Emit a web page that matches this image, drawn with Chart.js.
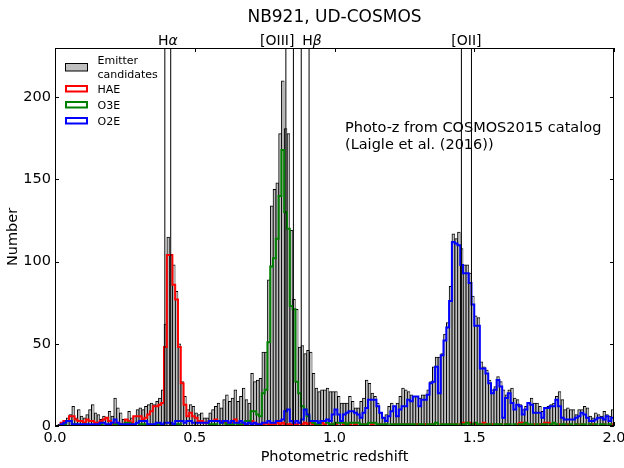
<!DOCTYPE html>
<html>
<head>
<meta charset="utf-8">
<script src="https://cdn.jsdelivr.net/npm/chart.js@4.4.1/dist/chart.umd.min.js"></script>
<style>
  html, body { margin: 0; padding: 0; background: #fff; }
</style>
</head>
<body>
<canvas id="chart" width="624" height="468"></canvas>
<script>
// histogram bins: 0.00 - 2.00 in steps of 0.01
const binWidth = 0.01;

const emitters = [
  0, 1, 1, 3, 5, 7, 12, 5, 10, 6,
  5, 7, 10, 13, 8, 7, 4, 6, 5, 9,
  6, 17, 11, 8, 4, 4, 9, 5, 6, 10,
  11, 10, 12, 13, 14, 13, 15, 17, 22, 62,
  115, 104, 98, 82, 50, 27, 18, 10, 13, 12,
  8, 7, 8, 5, 5, 8, 10, 12, 14, 11,
  16, 19, 15, 17, 22, 15, 18, 23, 16, 14,
  32, 27, 28, 29, 45, 45, 89, 134, 144, 148,
  178, 210, 181, 178, 119, 77, 71, 48, 49, 44,
  46, 45, 32, 23, 21, 22, 22, 23, 21, 21,
  21, 18, 14, 14, 14, 18, 15, 11, 11, 15,
  17, 28, 26, 20, 18, 14, 8, 5, 7, 12,
  14, 12, 14, 18, 23, 22, 21, 19, 18, 18,
  17, 19, 19, 22, 27, 36, 42, 42, 44, 56,
  63, 85, 117, 114, 118, 108, 98, 98, 93, 79,
  67, 66, 39, 36, 34, 28, 22, 24, 30, 27,
  22, 19, 22, 23, 17, 16, 13, 10, 12, 14,
  17, 14, 14, 12, 9, 11, 12, 13, 14, 18,
  21, 16, 10, 11, 10, 10, 7, 10, 10, 12,
  11, 6, 5, 8, 7, 6, 9, 7, 6, 10
];

const hae = [
  0, 0, 2, 3, 3, 6, 6, 4, 3, 3,
  2, 4, 3, 3, 2, 2, 3, 4, 5, 3,
  1, 2, 2, 1, 1, 4, 3, 2, 6, 6,
  6, 4, 5, 7, 9, 12, 12, 13, 14, 48,
  104, 104, 86, 77, 48, 26, 13, 6, 8, 6,
  5, 3, 3, 2, 2, 3, 3, 4, 3, 3,
  2, 2, 1, 2, 4, 2, 1, 1, 1, 2,
  3, 2, 1, 1, 1, 2, 1, 1, 1, 2,
  1, 2, 1, 1, 1, 1, 1, 2, 1, 2,
  1, 2, 1, 0, 1, 2, 1, 0, 0, 1,
  1, 0, 0, 1, 1, 1, 0, 1, 0, 0,
  1, 1, 0, 1, 0, 0, 1, 0, 0, 0,
  0, 1, 0, 0, 1, 0, 1, 0, 0, 1,
  0, 0, 1, 0, 0, 1, 0, 0, 1, 0,
  0, 1, 0, 1, 0, 1, 2, 2, 2, 1,
  1, 0, 1, 2, 1, 0, 1, 0, 0, 1,
  0, 1, 0, 0, 0, 1, 2, 2, 1, 0,
  0, 1, 0, 1, 1, 2, 2, 1, 0, 0,
  1, 0, 0, 1, 0, 0, 1, 0, 1, 0,
  0, 1, 1, 0, 0, 0, 1, 0, 0, 1
];

const o3e = [
  0, 0, 0, 1, 3, 3, 1, 1, 0, 0,
  1, 0, 0, 0, 0, 0, 1, 0, 0, 0,
  0, 1, 1, 1, 1, 2, 2, 1, 0, 0,
  1, 1, 1, 0, 0, 0, 1, 1, 0, 0,
  0, 0, 1, 1, 1, 0, 0, 0, 0, 0,
  0, 0, 0, 0, 0, 1, 1, 1, 0, 2,
  3, 1, 1, 1, 0, 1, 1, 2, 3, 3,
  9, 9, 7, 6, 20, 22, 51, 97, 102, 114,
  140, 168, 130, 120, 73, 71, 27, 20, 12, 10,
  6, 3, 2, 1, 1, 3, 3, 2, 1, 1,
  2, 2, 2, 2, 1, 2, 2, 2, 2, 1,
  1, 1, 2, 2, 2, 1, 1, 1, 1, 0,
  1, 1, 1, 1, 1, 1, 1, 1, 1, 0,
  1, 1, 0, 1, 1, 1, 2, 0, 1, 1,
  1, 1, 1, 1, 0, 1, 1, 2, 1, 1,
  2, 1, 1, 0, 1, 1, 0, 1, 1, 1,
  0, 1, 1, 0, 1, 0, 1, 1, 2, 1,
  1, 0, 1, 0, 1, 1, 0, 1, 2, 1,
  0, 1, 1, 0, 1, 0, 1, 0, 1, 1,
  0, 1, 0, 1, 0, 1, 1, 0, 1, 0
];

const o2e = [
  0, 0, 1, 2, 3, 3, 1, 1, 1, 1,
  1, 1, 1, 1, 1, 1, 2, 2, 1, 1,
  2, 4, 2, 1, 1, 1, 1, 1, 1, 2,
  3, 3, 3, 1, 1, 1, 2, 2, 1, 2,
  2, 2, 1, 3, 3, 3, 2, 3, 3, 2,
  2, 2, 2, 2, 2, 3, 3, 3, 3, 2,
  3, 3, 2, 3, 2, 2, 3, 2, 1, 2,
  1, 2, 1, 1, 2, 2, 3, 2, 2, 3,
  3, 4, 9, 10, 3, 2, 3, 2, 4, 10,
  7, 3, 3, 3, 2, 3, 3, 4, 3, 7,
  10, 7, 3, 7, 8, 9, 9, 8, 7, 5,
  8, 11, 16, 16, 16, 12, 8, 5, 3, 6,
  9, 12, 6, 10, 12, 12, 16, 15, 18, 18,
  12, 16, 16, 19, 26, 27, 36, 20, 43, 52,
  60, 76, 112, 111, 110, 98, 93, 93, 87, 74,
  61, 61, 35, 35, 32, 26, 20, 22, 28, 24,
  5, 17, 20, 14, 10, 13, 12, 7, 10, 14,
  13, 8, 8, 8, 5, 11, 11, 12, 12, 16,
  12, 5, 4, 4, 4, 4, 5, 6, 8, 7,
  5, 3, 3, 4, 5, 5, 4, 6, 3, 5
];

// NB921 filter edges translated to redshift for each line
const lineZ = [0.393, 0.414, 0.826, 0.853, 0.881, 0.909, 1.454, 1.490];
const xTicks = [0, 0.5, 1.0, 1.5, 2.0];
const yTicks = [0, 50, 100, 150, 200];
const yMax = 230;

const FONT = '"DejaVu Sans", "Liberation Sans", sans-serif';
Chart.defaults.font.family = FONT;
Chart.defaults.color = '#000';

function stepPoints(arr) {
  const pts = arr.map((v, i) => ({x: i * binWidth, y: v}));
  pts.push({x: arr.length * binWidth, y: 0});
  return pts;
}

const barPoints = emitters.map((v, i) => ({x: (i + 0.5) * binWidth, y: v}));
const vlinePoints = [];
lineZ.forEach(z => {
  vlinePoints.push({x: z, y: 0}, {x: z, y: yMax}, {x: z, y: null});
});

function stepSet(label, data, color, order) {
  return {
    type: 'line',
    label: label,
    data: stepPoints(data),
    borderColor: color,
    borderWidth: 2,
    stepped: 'before',
    pointRadius: 0,
    fill: false,
    order: order
  };
}

// text, legend, frame and inward ticks
const decor = {
  id: 'decor',
  afterDraw(chart) {
    const {ctx, chartArea: a, scales: {x, y}} = chart;
    ctx.save();

    ctx.strokeStyle = '#000';
    ctx.lineWidth = 1;
    ctx.strokeRect(Math.round(a.left) + 0.5, Math.round(a.top) + 0.5,
                   Math.round(a.right - a.left) - 1, Math.round(a.bottom - a.top) - 1);

    ctx.beginPath();
    xTicks.forEach(v => {
      const p = Math.round(x.getPixelForValue(v)) + 0.5;
      ctx.moveTo(p, a.bottom); ctx.lineTo(p, a.bottom - 4);
      ctx.moveTo(p, a.top); ctx.lineTo(p, a.top + 4);
    });
    yTicks.forEach(v => {
      const p = Math.round(y.getPixelForValue(v)) + 0.5;
      ctx.moveTo(a.left, p); ctx.lineTo(a.left + 4, p);
      ctx.moveTo(a.right, p); ctx.lineTo(a.right - 4, p);
    });
    ctx.stroke();

    ctx.fillStyle = '#000';
    ctx.textBaseline = 'alphabetic';

    // title
    ctx.font = '17px ' + FONT;
    ctx.textAlign = 'center';
    ctx.fillText('NB921, UD-COSMOS', (a.left + a.right) / 2, 21.5);

    // line labels above the frame
    const base = 44.5;
    const normal = '14px ' + FONT, oblique = 'italic 14px ' + FONT;
    function lineName(plain, greek, px, align) {
      ctx.font = normal;
      const w1 = ctx.measureText(plain).width;
      let w2 = 0;
      if (greek) { ctx.font = oblique; w2 = ctx.measureText(greek).width; }
      const w = w1 + w2;
      let left = px;
      if (align === 'center') left = px - w / 2;
      if (align === 'right') left = px - w;
      ctx.textAlign = 'left';
      ctx.font = normal;
      ctx.fillText(plain, left, base);
      if (greek) { ctx.font = oblique; ctx.fillText(greek, left + w1, base); }
    }
    const px = z => x.getPixelForValue(z);
    lineName('H', 'α', (px(lineZ[0]) + px(lineZ[1])) / 2, 'center');
    lineName('[OIII]', '', px(lineZ[3]) + 1, 'right');
    lineName('H', 'β', px(lineZ[4]) + 1, 'left');
    lineName('[OII]', '', (px(lineZ[6]) + px(lineZ[7])) / 2, 'center');

    // note
    ctx.font = '14.5px ' + FONT;
    ctx.textAlign = 'left';
    ctx.fillText('Photo-z from COSMOS2015 catalog', 345, 132);
    ctx.fillText('(Laigle et al. (2016))', 345, 149);

    // legend
    const lx = 65, lw = 23, tx = 97.5;
    ctx.font = '11px ' + FONT;
    ctx.fillStyle = '#bfbfbf';
    ctx.fillRect(lx, 63.5, lw, 7.5);
    ctx.strokeStyle = '#000';
    ctx.lineWidth = 1;
    ctx.strokeRect(lx + 0.5, 63.5, lw - 1, 7.5);
    ctx.fillStyle = '#000';
    ctx.fillText('Emitter', tx, 64);
    ctx.fillText('candidates', tx, 77.5);
    [['HAE', '#ff0000', 86], ['O3E', '#008000', 102], ['O2E', '#0000ff', 118]].forEach(e => {
      ctx.strokeStyle = e[1];
      ctx.lineWidth = 2;
      ctx.strokeRect(lx + 1, e[2], lw - 2, 5.5);
      ctx.fillStyle = '#000';
      ctx.fillText(e[0], tx, e[2] + 7);
    });

    ctx.restore();
  }
};

new Chart(document.getElementById('chart'), {
  type: 'bar',
  data: {
    datasets: [
      {
        type: 'line',
        label: 'filter edges',
        data: vlinePoints,
        borderColor: '#000',
        borderWidth: 1,
        pointRadius: 0,
        spanGaps: false,
        fill: false,
        order: 1
      },
      stepSet('O2E', o2e, '#0000ff', 2),
      stepSet('O3E', o3e, '#008000', 3),
      stepSet('HAE', hae, '#ff0000', 4),
      {
        type: 'bar',
        label: 'Emitter candidates',
        data: barPoints,
        backgroundColor: '#bfbfbf',
        borderColor: '#000',
        borderWidth: {top: 1, left: 1, right: 0.6, bottom: 0},
        barPercentage: 1,
        categoryPercentage: 1,
        order: 5
      }
    ]
  },
  options: {
    responsive: false,
    animation: false,
    events: [],
    layout: {padding: {top: 48, right: 10, left: 0, bottom: 0}},
    plugins: {
      legend: {display: false},
      tooltip: {enabled: false},
      title: {display: false}
    },
    scales: {
      x: {
        type: 'linear',
        min: 0,
        max: 2,
        offset: false,
        grid: {display: false, drawTicks: false},
        border: {display: false},
        ticks: {
          stepSize: 0.5,
          padding: 4,
          font: {size: 14.5},
          callback: v => v.toFixed(1)
        },
        title: {
          display: true,
          text: 'Photometric redshift',
          font: {size: 14.5},
          padding: {top: 0, bottom: 2}
        },
        afterFit(s) { s.height = 42; s.paddingLeft = 0; s.paddingRight = 0; }
      },
      y: {
        min: 0,
        max: yMax,
        grid: {display: false, drawTicks: false},
        border: {display: false},
        ticks: {stepSize: 50, padding: 4, font: {size: 14.5}},
        afterBuildTicks(s) { s.ticks = s.ticks.filter(t => yTicks.includes(t.value)); },
        title: {
          display: true,
          text: 'Number',
          font: {size: 14.5},
          padding: {top: 5, bottom: 0}
        },
        afterFit(s) { s.width = 55; s.paddingTop = 0; s.paddingBottom = 0; }
      }
    }
  },
  plugins: [decor]
});
</script>
</body>
</html>
